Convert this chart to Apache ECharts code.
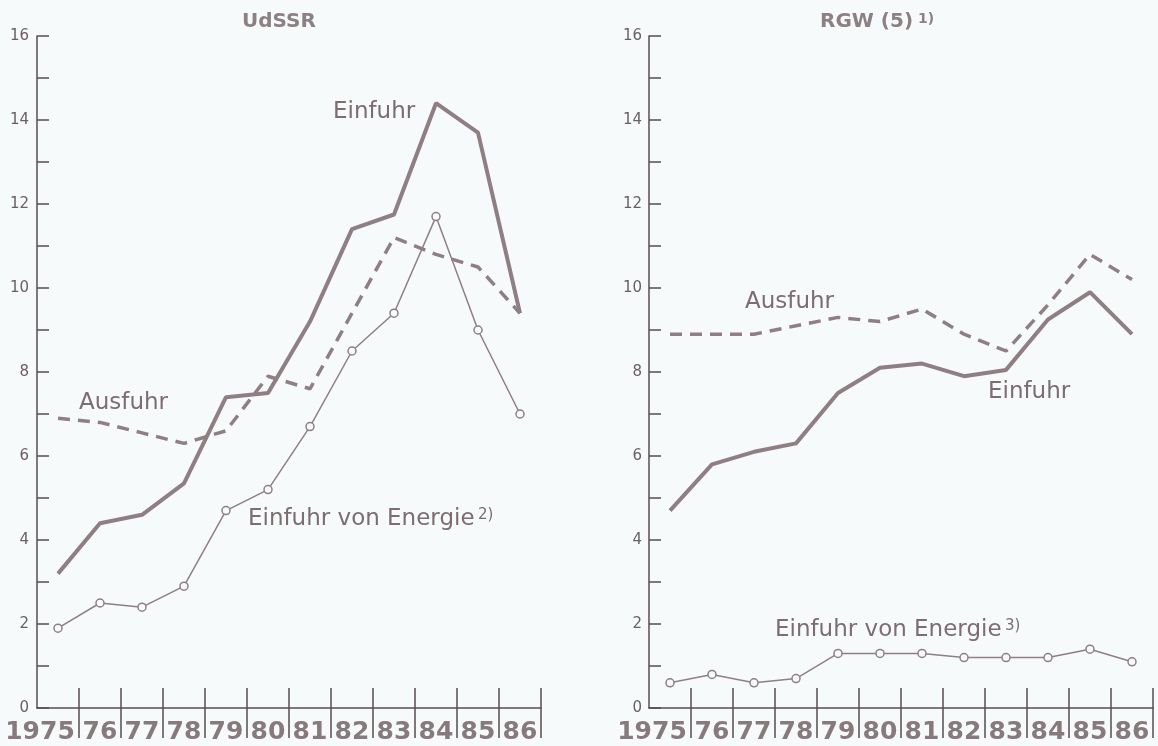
<!DOCTYPE html>
<html>
<head>
<meta charset="utf-8">
<title>UdSSR / RGW</title>
<script src="https://cdn.jsdelivr.net/npm/echarts@6/dist/echarts.min.js"></script>
<style>
  html, body { margin: 0; padding: 0; background: #f7fafb; }
</style>
</head>
<body>
<div id="main" style="width:1158px;height:746px;"></div>
<script>
// Jahre (x-Achse)
var years = ['1975', '76', '77', '78', '79', '80', '81', '82', '83', '84', '85', '86'];

// UdSSR
var udssrEinfuhr = [3.2, 4.4, 4.6, 5.35, 7.4, 7.5, 9.2, 11.4, 11.75, 14.4, 13.7, 9.4];
var udssrAusfuhr = [6.9, 6.8, 6.55, 6.3, 6.6, 7.9, 7.6, 9.4, 11.2, 10.8, 10.5, 9.4];
var udssrEnergie = [1.9, 2.5, 2.4, 2.9, 4.7, 5.2, 6.7, 8.5, 9.4, 11.7, 9.0, 7.0];

// RGW (5)
var rgwEinfuhr = [4.7, 5.8, 6.1, 6.3, 7.5, 8.1, 8.2, 7.9, 8.05, 9.25, 9.9, 8.9];
var rgwAusfuhr = [8.9, 8.9, 8.9, 9.1, 9.3, 9.2, 9.5, 8.9, 8.5, 9.6, 10.8, 10.2];
var rgwEnergie = [0.6, 0.8, 0.6, 0.7, 1.3, 1.3, 1.3, 1.2, 1.2, 1.2, 1.4, 1.1];

var yTicks = [0, 2, 4, 6, 8, 10, 12, 14, 16];

var bg = '#f7fafb';
var lineColor = '#8f7f83';
var textColor = '#7d6d71';
var axisColor = '#574e50';
var yearColor = '#877a7d';

var chart = echarts.init(document.getElementById('main'));

function xAxes(grid) {
    var tickLine = { color: axisColor, width: 1.5 };
    return [
        {
            gridIndex: grid, type: 'category', data: years, boundaryGap: true, position: 'bottom',
            axisLine: { show: true, lineStyle: { color: axisColor, width: 1.5 } },
            axisTick: { show: true, inside: true, length: 20, interval: function (i) { return i > 0; }, lineStyle: tickLine },
            axisLabel: {
                show: true, interval: 0, margin: 12,
                formatter: function (v, i) { return i === 0 ? '{y|' + v + '}{sp|}' : '{y|' + v + '}'; },
                rich: {
                    y: { color: yearColor, fontFamily: 'DejaVu Sans', fontWeight: 'bold', fontSize: 25 },
                    sp: { width: 36 }
                }
            },
            splitLine: { show: false }
        },
        {
            gridIndex: grid, type: 'category', data: years, boundaryGap: true, position: 'bottom',
            axisLine: { show: false },
            axisLabel: { show: false },
            axisTick: { show: true, inside: false, length: 30, interval: function (i) { return i > 0; }, lineStyle: tickLine },
            splitLine: { show: false }
        }
    ];
}

function yAxis(grid, margin) {
    return {
        gridIndex: grid, type: 'value', min: 0, max: 16, interval: 1,
        axisLine: { show: true, lineStyle: { color: axisColor, width: 1.5 } },
        axisTick: { show: true, inside: true, length: 12, lineStyle: { color: axisColor, width: 1.5 } },
        axisLabel: {
            margin: margin, color: '#6a6063', fontFamily: 'DejaVu Sans', fontSize: 15,
            formatter: function (v) { return yTicks.indexOf(v) >= 0 ? String(v) : ''; }
        },
        splitLine: { show: false }
    };
}

function lines(xi, yi, einfuhr, ausfuhr, energie) {
    return [
        {
            name: 'Einfuhr', type: 'line', xAxisIndex: xi, yAxisIndex: yi, data: einfuhr,
            symbol: 'none', lineStyle: { color: lineColor, width: 4 }
        },
        {
            name: 'Ausfuhr', type: 'line', xAxisIndex: xi, yAxisIndex: yi, data: ausfuhr,
            symbol: 'none', lineStyle: { color: lineColor, width: 3.5, type: [12, 8] }
        },
        {
            name: 'Einfuhr von Energie', type: 'line', xAxisIndex: xi, yAxisIndex: yi, data: energie,
            symbol: 'circle', symbolSize: 8,
            itemStyle: { color: bg, borderColor: lineColor, borderWidth: 1.5 },
            lineStyle: { color: lineColor, width: 1.5 }
        }
    ];
}

function note(x, y, main, sup) {
    return {
        type: 'text', x: x, y: y,
        style: {
            text: sup ? '{m|' + main + '} {s|' + sup + '}' : '{m|' + main + '}',
            align: 'left', verticalAlign: 'middle',
            rich: {
                m: { fill: textColor, fontFamily: 'DejaVu Sans', fontSize: 23 },
                s: { fill: textColor, fontFamily: 'DejaVu Sans', fontSize: 15, verticalAlign: 'top' }
            }
        }
    };
}

var option = {
    backgroundColor: bg,
    animation: false,
    title: [
        {
            text: 'UdSSR', left: 242, top: 12, padding: 0,
            textStyle: { color: '#8c8083', fontFamily: 'DejaVu Sans', fontWeight: 'bold', fontSize: 20 }
        },
        {
            text: '{a|RGW (5)} {b|1)}', left: 820, top: 12, padding: 0,
            textStyle: {
                rich: {
                    a: { color: '#8c8083', fontFamily: 'DejaVu Sans', fontWeight: 'bold', fontSize: 20 },
                    b: { color: '#8c8083', fontFamily: 'DejaVu Sans', fontSize: 14, verticalAlign: 'top' }
                }
            }
        }
    ],
    grid: [
        { left: 37, right: 617, top: 36, bottom: 38 },
        { left: 649, right: 5, top: 36, bottom: 38 }
    ],
    xAxis: xAxes(0).concat(xAxes(1)),
    yAxis: [yAxis(0, 8), yAxis(1, 7)],
    series: lines(0, 0, udssrEinfuhr, udssrAusfuhr, udssrEnergie)
        .concat(lines(2, 1, rgwEinfuhr, rgwAusfuhr, rgwEnergie)),
    graphic: [
        note(333, 112, 'Einfuhr'),
        note(79, 403, 'Ausfuhr'),
        note(248, 519, 'Einfuhr von Energie', '2)'),
        note(745, 302, 'Ausfuhr'),
        note(988, 392, 'Einfuhr'),
        note(775, 630, 'Einfuhr von Energie', '3)')
    ]
};

chart.setOption(option);
</script>
</body>
</html>
